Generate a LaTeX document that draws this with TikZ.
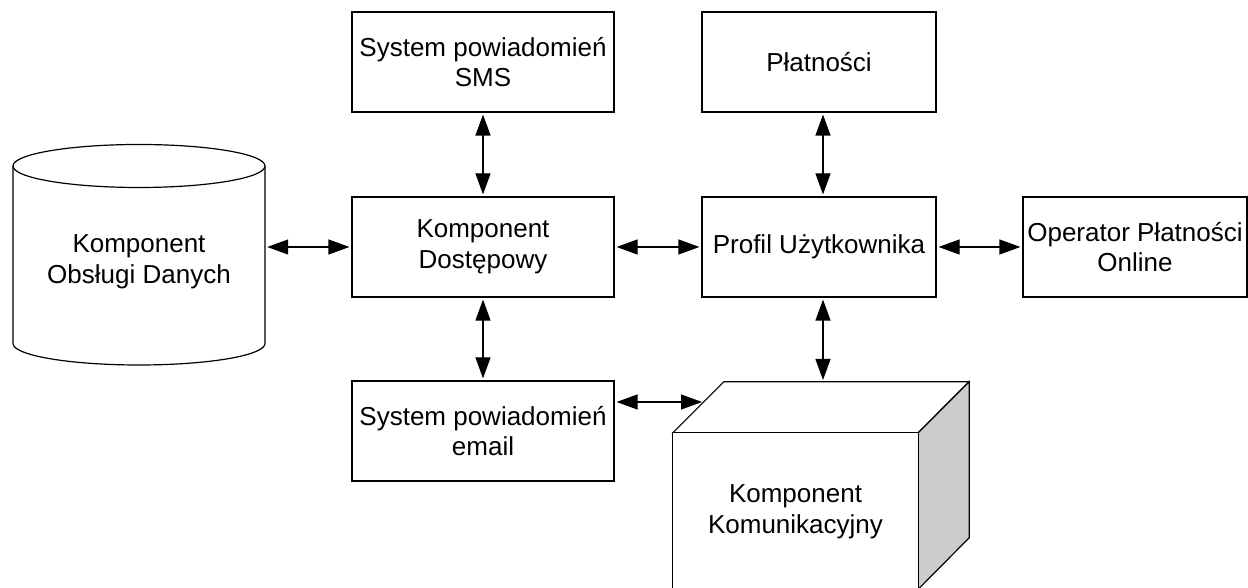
\documentclass[tikz,border=0pt]{standalone}
\usepackage{fontspec}
\setmainfont{Liberation Sans}
\usetikzlibrary{arrows.meta}
\begin{document}
\begin{tikzpicture}[x=1pt,y=1pt,
  every node/.style={font=\fontsize{26pt}{30.5pt}\selectfont, align=center, inner sep=0pt},
  box/.style={draw=black, line width=1.2pt, fill=white, minimum height=100pt},
  conn/.style={line width=1.2pt, {Triangle[length=21pt,width=15pt]}-{Triangle[length=21pt,width=15pt]}, shorten <=2pt, shorten >=2pt},
  solid3d/.style={draw=black, line width=1.2pt, line join=miter}]
\useasboundingbox (0,0) rectangle (1248,588);

% boxes
\node[box, minimum width=262pt] (sms)  at (483,526) {System powiadomień\\SMS};
\node[box, minimum width=234pt] (plat) at (819,526) {Płatności};
\node[box, minimum width=262pt] (dost) at (483,341) {Komponent\\Dostępowy};
\node[box, minimum width=234pt] (prof) at (819,341) {Profil Użytkownika};
\node[box, minimum width=224pt] (op)   at (1135,341) {Operator Płatności\\Online};
\node[box, minimum width=262pt] (email) at (483,157) {System powiadomień\\email};

% cylinder (database)
\node[minimum width=252pt, minimum height=220pt] (db) at (139,333) {};
\draw[solid3d, fill=white] (13,422) -- (13,244.5)
  arc[start angle=180, end angle=360, x radius=126pt, y radius=21.5pt]
  -- (265,422);
\draw[solid3d, fill=white] (139,422) ellipse[x radius=126pt, y radius=21.5pt];
\node (dbtext) at (139,326) {Komponent\\Obsługi Danych};

% cube
\node[minimum width=245pt, minimum height=156pt] (cube) at (795.5,77) {};
\draw[solid3d, fill=white] (cube.north west) -- ++(51,51) -- ++(245,0) -- (cube.north east) -- cycle;
\draw[solid3d, fill=gray!40] (cube.north east) -- ++(51,51) -- ++(0,-156) -- (cube.south east) -- cycle;
\draw[solid3d, fill=white] (cube.south west) rectangle (cube.north east);
\node (cubetext) at (795.5,76) {Komponent\\Komunikacyjny};

\coordinate (ce) at (704,186);
\coordinate (ct) at (823,206);

% connectors
\draw[conn] (db.east |- dost.west) -- (dost.west);
\draw[conn] (dost.east) -- (prof.west);
\draw[conn] (prof.east) -- (op.west);
\draw[conn] (sms.south) -- (dost.north);
\draw[conn] (dost.south) -- (email.north);
\draw[conn] (plat.south -| ct) -- (prof.north -| ct);
\draw[conn] (prof.south -| ct) -- (ct);
\draw[conn] (email.east |- ce) -- (ce);
\end{tikzpicture}
\end{document}
